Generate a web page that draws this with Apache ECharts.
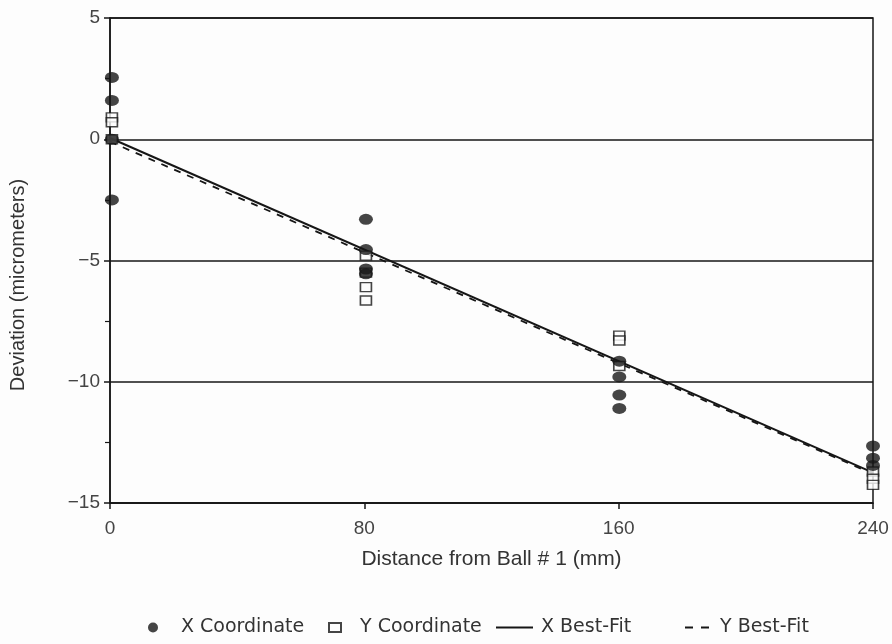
<!DOCTYPE html>
<html>
<head>
<meta charset="utf-8">
<script src="https://cdn.jsdelivr.net/npm/echarts@6/dist/echarts.min.js"></script>
<style>
html,body{margin:0;padding:0;background:#fdfdfd;}
#c{width:892px;height:644px;}
</style>
</head>
<body>
<div id="c"></div>
<script>
// Ball positions (mm) as plotted
const ballPositions = [0.6, 80.5, 160.2, 240];
// X coordinate deviations (micrometers) per ball position
const xCoordDev = [
  [2.55, 1.6, 0.0, -2.5],
  [-3.3, -4.55, -5.35, -5.55],
  [-9.15, -9.8, -10.55, -11.1],
  [-12.65, -13.15, -13.45]
];
// Y coordinate deviations (micrometers) per ball position
const yCoordDev = [
  [0.9, 0.7, 0.0],
  [-4.8, -5.5, -6.1, -6.65],
  [-8.1, -8.3, -9.35],
  [-13.7, -14.0, -14.25]
];
// Best-fit lines: endpoints
const fitX = [0, 240];
const xBestFit = [0.05, -13.75];
const yBestFit = [-0.1, -13.8];
// Axis ticks
const xTicks = [0, 80, 160, 240];
const yTicks = [-15, -10, -5, 0, 5];

function pts(groups) {
  const out = [];
  groups.forEach((g, i) => g.forEach(v => out.push([ballPositions[i], v])));
  return out;
}
function line(ys) { return fitX.map((x, i) => [x, ys[i]]); }

const ink = '#161616';
const font = 'Liberation Sans';
const legFont = { fontFamily: 'DejaVu Sans', fontSize: 19, color: '#333' };
function leg(item, left, w, h, padLeft) {
  return { top: 613, left: left, itemWidth: w, itemHeight: h, data: [item],
    textStyle: Object.assign({ padding: [0, 0, 0, padLeft] }, legFont) };
}
const chart = echarts.init(document.getElementById('c'));
chart.setOption({
  backgroundColor: '#fdfdfd',
  animation: false,
  grid: { left: 110, right: 19, top: 18, bottom: 141, show: true, borderColor: ink, borderWidth: 1.5, backgroundColor: 'transparent' },
  xAxis: {
    type: 'value', min: xTicks[0], max: xTicks[xTicks.length - 1], interval: 80,
    name: 'Distance from Ball # 1 (mm)', nameLocation: 'middle', nameGap: 46,
    nameTextStyle: { fontFamily: font, fontSize: 21, color: '#333' },
    axisLine: { show: true, onZero: false, lineStyle: { color: ink, width: 1.5 } },
    axisTick: { show: true, length: 6, lineStyle: { color: ink, width: 1.5 } },
    axisLabel: { fontFamily: font, fontSize: 19, color: '#444', margin: 16 },
    splitLine: { show: false }
  },
  yAxis: {
    type: 'value', min: yTicks[0], max: yTicks[yTicks.length - 1], interval: 5,
    axisLine: { show: true, onZero: false, lineStyle: { color: ink, width: 1.5 } },
    axisTick: { show: true, length: 6, lineStyle: { color: ink, width: 1.5 } },
    minorTick: { show: true, splitNumber: 2, length: 5, lineStyle: { color: ink, width: 1.2 } },
    axisLabel: { fontFamily: font, fontSize: 19, color: '#444', margin: 10,
      formatter: v => (v < 0 ? '\u2212' + Math.abs(v) : String(v)) },
    splitLine: { show: true, lineStyle: { color: ink, width: 1.5 } }
  },
  graphic: [{
    type: 'text', x: 18, y: 285, rotation: Math.PI / 2,
    style: { text: 'Deviation (micrometers)', fontFamily: 'Liberation Sans Narrow, Liberation Sans', fontSize: 20, fill: '#333', align: 'center', verticalAlign: 'middle' }
  }],
  legend: [
    leg({ name: 'X Coordinate', icon: 'circle' }, 143, 12, 10, 17),
    leg({ name: 'Y Coordinate', icon: 'rect' }, 323, 12, 9, 14),
    leg({ name: 'X Best-Fit', icon: 'rect', itemStyle: { color: ink, borderWidth: 0 } }, 491, 37, 2, 3),
    leg({ name: 'Y Best-Fit', icon: 'path://M0,0h8v2h-8z M16,0h8v2h-8z', itemStyle: { color: ink, borderWidth: 0 } }, 680, 24, 2, 6)
  ],
  series: [
    { name: 'X Best-Fit', type: 'line', data: line(xBestFit), symbol: 'none', z: 3,
      lineStyle: { color: ink, width: 2 }, itemStyle: { color: ink } },
    { name: 'Y Best-Fit', type: 'line', data: line(yBestFit), symbol: 'none', z: 3,
      lineStyle: { color: ink, width: 1.8, type: [7, 7] }, itemStyle: { color: ink } },
    { name: 'Y Coordinate', type: 'scatter', data: pts(yCoordDev), symbol: 'rect', symbolSize: [11, 9], z: 4,
      itemStyle: { color: '#fdfdfd', borderColor: ink, borderWidth: 1.5 } },
    { name: 'X Coordinate', type: 'scatter', data: pts(xCoordDev), symbol: 'circle', symbolSize: [14, 11], z: 5,
      itemStyle: { color: ink } }
  ]
});
</script>
</body>
</html>
